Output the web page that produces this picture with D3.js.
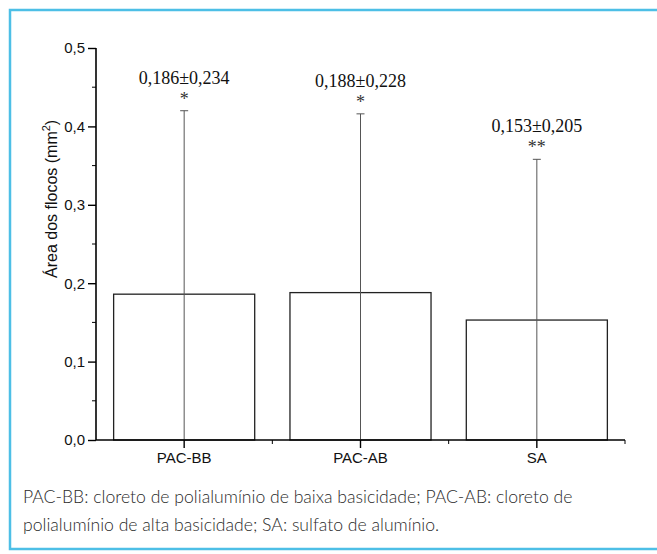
<!DOCTYPE html>
<html>
<head>
<meta charset="utf-8">
<script src="https://cdn.jsdelivr.net/npm/d3@7"></script>
<style>
body { margin: 0; background: #fff; }
svg { display: block; }
</style>
</head>
<body>
<script>
var categories = ["PAC-BB", "PAC-AB", "SA"];
var means = [0.186, 0.188, 0.153];
var sds = [0.234, 0.228, 0.205];
var stars = ["*", "*", "**"];
var yTicks = [0, 0.1, 0.2, 0.3, 0.4, 0.5];
var captionLines = ["PAC-BB: cloreto de polialumínio de baixa basicidade; PAC-AB: cloreto de",
                    "polialumínio de alta basicidade; SA: sulfato de alumínio."];

var width = 657, height = 554;
var m = {top: 48, left: 96, right: 32, bottom: 114};

var svg = d3.select("body").append("svg").attr("width", width).attr("height", height);

// moldura azul (lado direito fica fora da imagem)
svg.append("rect").attr("x", 10).attr("y", 10).attr("width", 660).attr("height", 539)
   .attr("fill", "none").attr("stroke", "#4dbfe6").attr("stroke-width", 2.5);

var xb = d3.scaleBand().domain(categories).range([m.left, width - m.right]);
var y = d3.scaleLinear().domain([0, 0.5]).range([height - m.bottom, m.top]);

var fmt = function(v) { return d3.format(".1f")(v).replace(".", ","); };
var fmt3 = function(v) { return d3.format(".3f")(v).replace(".", ","); };

// barras
svg.selectAll("rect.bar").data(means).enter().append("rect")
   .attr("class", "bar")
   .attr("x", function(d, i) { return xb(categories[i]) + xb.bandwidth() * 0.1; })
   .attr("width", xb.bandwidth() * 0.8)
   .attr("y", function(d) { return y(d); })
   .attr("height", function(d) { return y(0) - y(d); })
   .attr("fill", "#fff").attr("stroke", "#222").attr("stroke-width", 1.3);

// barras de erro (so a parte de cima aparece, a de baixo fica abaixo de zero)
var cx = function(i) { return xb(categories[i]) + xb.bandwidth() / 2; };
svg.selectAll("line.err").data(means).enter().append("line")
   .attr("x1", function(d, i) { return cx(i); }).attr("x2", function(d, i) { return cx(i); })
   .attr("y1", function(d, i) { return y(Math.max(0, d - sds[i])); })
   .attr("y2", function(d, i) { return y(d + sds[i]); })
   .attr("stroke", "#555").attr("stroke-width", 1);
svg.selectAll("line.cap").data(means).enter().append("line")
   .attr("x1", function(d, i) { return cx(i) - 4; }).attr("x2", function(d, i) { return cx(i) + 4; })
   .attr("y1", function(d, i) { return y(d + sds[i]); })
   .attr("y2", function(d, i) { return y(d + sds[i]); })
   .attr("stroke", "#555").attr("stroke-width", 1);

// rotulos
svg.selectAll("text.val").data(means).enter().append("text")
   .attr("x", function(d, i) { return cx(i); })
   .attr("y", function(d, i) { return y(d + sds[i]) - 27; })
   .attr("text-anchor", "middle")
   .style("font-family", "'Liberation Serif', 'Times New Roman', serif").style("font-size", "18px").attr("fill", "#111")
   .text(function(d, i) { return fmt3(d) + "±" + fmt3(sds[i]); });
svg.selectAll("text.star").data(stars).enter().append("text")
   .attr("x", function(d, i) { return cx(i); })
   .attr("y", function(d, i) { return y(means[i] + sds[i]) - 6; })
   .attr("text-anchor", "middle")
   .style("font-family", "'Liberation Serif', 'Times New Roman', serif").style("font-size", "18px").attr("fill", "#333")
   .text(function(d) { return d; });

// eixos
var yAxis = d3.axisLeft(y).tickValues(yTicks).tickFormat(fmt).tickSize(8).tickPadding(3);
var gy = svg.append("g").attr("transform", "translate(" + m.left + ",0)").call(yAxis);
gy.select(".domain").attr("d", "M0," + y(0.5) + "V" + y(0));
gy.selectAll("text").style("font-family", "Arial, 'Liberation Sans', sans-serif").style("font-size", "15px").attr("fill", "#111");
gy.selectAll("line.minor").data([0.05, 0.15, 0.25, 0.35, 0.45]).enter().append("line").attr("class", "minor")
   .attr("x1", -4).attr("x2", 0).attr("y1", function(d) { return y(d); }).attr("y2", function(d) { return y(d); })
   .attr("stroke", "#000");

var xAxis = d3.axisBottom(xb).tickSize(8).tickPadding(4);
var gx = svg.append("g").attr("transform", "translate(0," + y(0) + ")").call(xAxis);
gx.select(".domain").attr("d", "M" + m.left + ",0H" + (width - m.right));
gx.selectAll("text").style("font-family", "Arial, 'Liberation Sans', sans-serif").style("font-size", "15px").attr("fill", "#111");
var bounds = [xb("PAC-AB"), xb("SA"), width - m.right];
gx.selectAll("line.minor").data(bounds).enter().append("line").attr("class", "minor")
   .attr("x1", function(d) { return d; }).attr("x2", function(d) { return d; })
   .attr("y1", 0).attr("y2", 4).attr("stroke", "#000");

svg.selectAll(".domain").attr("stroke", "#000").attr("stroke-width", 1.6);
svg.selectAll(".tick line").attr("stroke", "#000").attr("stroke-width", 1.4);

// titulo do eixo y
var yt = svg.append("text").attr("transform", "translate(57,278) rotate(-90)")
   .style("font-family", "Arial, 'Liberation Sans', sans-serif").style("font-size", "16px").attr("fill", "#111");
yt.append("tspan").text("Área dos flocos (mm");
yt.append("tspan").attr("dy", -7).style("font-size", "11px").text("2");
yt.append("tspan").attr("dy", 7).text(")");

// legenda embaixo
svg.selectAll("text.cap").data(captionLines).enter().append("text")
   .attr("x", 23).attr("y", function(d, i) { return 503 + i * 28; })
   .style("font-family", "Lato, sans-serif").style("font-weight", 300).style("font-size", "17.6px").attr("fill", "#2a2a2a")
   .text(function(d) { return d; });
</script>
</body>
</html>
